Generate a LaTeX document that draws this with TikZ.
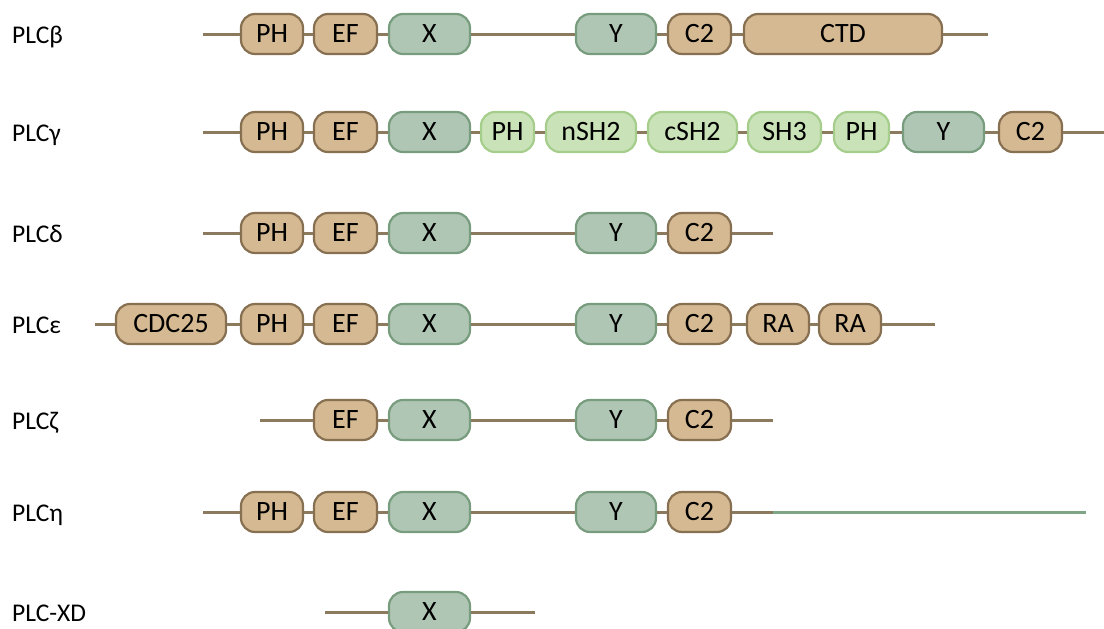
\documentclass[tikz,border=0pt]{standalone}
\usepackage{fontspec}
\setmainfont{Carlito}
\definecolor{tanF}{RGB}{213,185,146}
\definecolor{tanD}{RGB}{135,112,82}
\definecolor{grF}{RGB}{176,198,180}
\definecolor{grD}{RGB}{120,156,126}
\definecolor{lgF}{RGB}{202,226,183}
\definecolor{lgD}{RGB}{165,205,140}
\definecolor{bbC}{RGB}{140,122,95}
\definecolor{glC}{RGB}{127,165,135}
\tikzset{
  dom/.style={draw, line width=2.2pt, rounded corners=14pt, minimum height=40pt, inner sep=0pt, font=\fontsize{28}{30}\selectfont, text=black},
  tan/.style={dom, fill=tanF, draw=tanD},
  gr/.style={dom, fill=grF, draw=grD},
  lg/.style={dom, fill=lgF, draw=lgD},
  bb/.style={draw=bbC, line width=3pt},
  gl/.style={draw=glC, line width=3pt},
  lab/.style={anchor=base west, inner sep=0pt, font=\fontsize{25.5}{28}\selectfont}
}
\begin{document}
\begin{tikzpicture}[x=1pt,y=-1pt]
\useasboundingbox (0,0) rectangle (1104,629);
% labels
\node[lab] (lb) at (12,43) {PLCβ};
\node[lab] (lg) at (12,141) {PLCγ};
\node[lab] (ld) at (12,242) {PLCδ};
\node[lab] (le) at (12,333) {PLCε};
\node[lab] (lz) at (12,429) {PLCζ};
\node[lab] (lh) at (12,521) {PLCη};
\node[lab] (lx) at (12,621) {PLC-XD};
% ---- beta
\coordinate (bs) at (203,34); \coordinate (be) at (988,34);
\node[tan, minimum width=62pt] (bPH) at (272,34) {PH};
\node[tan, minimum width=63pt] (bEF) at (345.5,34) {EF};
\node[gr, minimum width=81pt] (bX) at (429.5,34) {X};
\node[gr, minimum width=80pt] (bY) at (616,34) {Y};
\node[tan, minimum width=63pt] (bC2) at (699.5,34) {C2};
\node[tan, minimum width=198pt] (bCTD) at (843,34) {CTD};
\draw[bb] (bs) -- (bPH) -- (bEF) -- (bX) -- (bY) -- (bC2) -- (bCTD) -- (be);
% ---- gamma
\coordinate (gs) at (203,132); \coordinate (ge) at (1104,132);
\node[tan, minimum width=62pt] (gPH) at (272,132) {PH};
\node[tan, minimum width=63pt] (gEF) at (345.5,132) {EF};
\node[gr, minimum width=81pt] (gX) at (429.5,132) {X};
\node[lg, minimum width=53pt] (gPH2) at (507.5,132) {PH};
\node[lg, minimum width=90pt] (gnSH) at (591,132) {nSH2};
\node[lg, minimum width=89pt] (gcSH) at (692.5,132) {cSH2};
\node[lg, minimum width=73pt] (gSH3) at (784.5,132) {SH3};
\node[lg, minimum width=55pt] (gPH3) at (861.5,132) {PH};
\node[gr, minimum width=81pt] (gY) at (943.5,132) {Y};
\node[tan, minimum width=63pt] (gC2) at (1030.5,132) {C2};
\draw[bb] (gs) -- (gPH) -- (gEF) -- (gX) -- (gPH2) -- (gnSH) -- (gcSH) -- (gSH3) -- (gPH3) -- (gY) -- (gC2) -- (ge);
% ---- delta
\coordinate (ds) at (203,233); \coordinate (de) at (773,233);
\node[tan, minimum width=62pt] (dPH) at (272,233) {PH};
\node[tan, minimum width=63pt] (dEF) at (345.5,233) {EF};
\node[gr, minimum width=81pt] (dX) at (429.5,233) {X};
\node[gr, minimum width=80pt] (dY) at (616,233) {Y};
\node[tan, minimum width=63pt] (dC2) at (699.5,233) {C2};
\draw[bb] (ds) -- (dPH) -- (dEF) -- (dX) -- (dY) -- (dC2) -- (de);
% ---- epsilon
\coordinate (es) at (95,324); \coordinate (ee) at (935,324);
\node[tan, minimum width=110pt] (eCDC) at (171,324) {CDC25};
\node[tan, minimum width=62pt] (ePH) at (272,324) {PH};
\node[tan, minimum width=63pt] (eEF) at (345.5,324) {EF};
\node[gr, minimum width=81pt] (eX) at (429.5,324) {X};
\node[gr, minimum width=80pt] (eY) at (616,324) {Y};
\node[tan, minimum width=63pt] (eC2) at (699.5,324) {C2};
\node[tan, minimum width=62pt] (eRA1) at (778,324) {RA};
\node[tan, minimum width=62pt] (eRA2) at (850,324) {RA};
\draw[bb] (es) -- (eCDC) -- (ePH) -- (eEF) -- (eX) -- (eY) -- (eC2) -- (eRA1) -- (eRA2) -- (ee);
% ---- zeta
\coordinate (zs) at (260,420); \coordinate (ze) at (773,420);
\node[tan, minimum width=63pt] (zEF) at (345.5,420) {EF};
\node[gr, minimum width=81pt] (zX) at (429.5,420) {X};
\node[gr, minimum width=80pt] (zY) at (616,420) {Y};
\node[tan, minimum width=63pt] (zC2) at (699.5,420) {C2};
\draw[bb] (zs) -- (zEF) -- (zX) -- (zY) -- (zC2) -- (ze);
% ---- eta
\coordinate (hs) at (203,512); \coordinate (hm) at (773,512); \coordinate (he) at (1086,512);
\node[tan, minimum width=62pt] (hPH) at (272,512) {PH};
\node[tan, minimum width=63pt] (hEF) at (345.5,512) {EF};
\node[gr, minimum width=81pt] (hX) at (429.5,512) {X};
\node[gr, minimum width=80pt] (hY) at (616,512) {Y};
\node[tan, minimum width=63pt] (hC2) at (699.5,512) {C2};
\draw[bb] (hs) -- (hPH) -- (hEF) -- (hX) -- (hY) -- (hC2) -- (hm);
\draw[gl] (hm) -- (he);
% ---- XD
\coordinate (xs) at (325,612); \coordinate (xe) at (535,612);
\node[gr, minimum width=81pt] (xX) at (429.5,612) {X};
\draw[bb] (xs) -- (xX) -- (xe);
\end{tikzpicture}
\end{document}
